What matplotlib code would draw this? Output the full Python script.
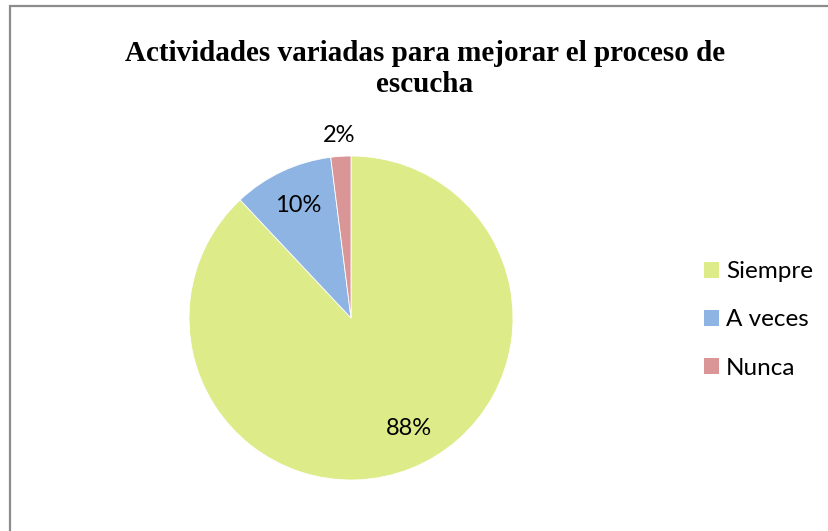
import numpy as np
import matplotlib
matplotlib.use("Agg")
import matplotlib.pyplot as plt
from matplotlib.patches import Rectangle

categorias = ["Siempre", "A veces", "Nunca"]
porcentajes = [88, 10, 2]
colores = ["#DEEB89", "#8DB4E2", "#DA9696"]
titulo = "Actividades variadas para mejorar el proceso de\nescucha"

W, H = 829, 531
fig = plt.figure(figsize=(W / 100, H / 100), dpi=100)

# marco gris del grafico (solo se ven arriba e izquierda)
fig.patches.append(Rectangle((10 / W, -0.01), 1.02, (H - 6) / H + 0.01,
                             transform=fig.transFigure, fill=False,
                             edgecolor="#8c8c8c", linewidth=1.6))

fig.text(425 / W, 1 - 69 / H, titulo, ha="center", va="center",
         family="Liberation Serif", weight="bold", fontsize=21,
         linespacing=1.22)

# eje del pastel
cx, cy, r = 351, 318, 162
ax = fig.add_axes([(cx - r) / W, (H - cy - r) / H, 2 * r / W, 2 * r / H])
wedges, _ = ax.pie(porcentajes, colors=colores, startangle=90,
                   counterclock=False, radius=1,
                   wedgeprops=dict(edgecolor="white", linewidth=0.6))
ax.set_xlim(-1, 1)
ax.set_ylim(-1, 1)
ax.set_aspect("equal")
ax.axis("off")

# etiquetas "best fit" como en Excel
distancias = [0.77, 0.77, 1.13]
giro = [6, 0, 0]
for w, p, d, g in zip(wedges, porcentajes, distancias, giro):
    ang = np.deg2rad((w.theta1 + w.theta2) / 2 + g)
    ax.text(d * np.cos(ang), d * np.sin(ang), f"{p}%", ha="center",
            va="center", family="Lato", fontsize=17, color="black")

leg = fig.legend(wedges, categorias, loc="center left",
                 bbox_to_anchor=(682 / W, 1 - 320 / H), frameon=False,
                 prop=dict(family="Lato", size=17.5), handlelength=0.62,
                 handleheight=0.62, handletextpad=0.3, labelspacing=1.12)
for h in leg.legend_handles:
    h.set_edgecolor("none")

fig.savefig("out.png", dpi=100)
